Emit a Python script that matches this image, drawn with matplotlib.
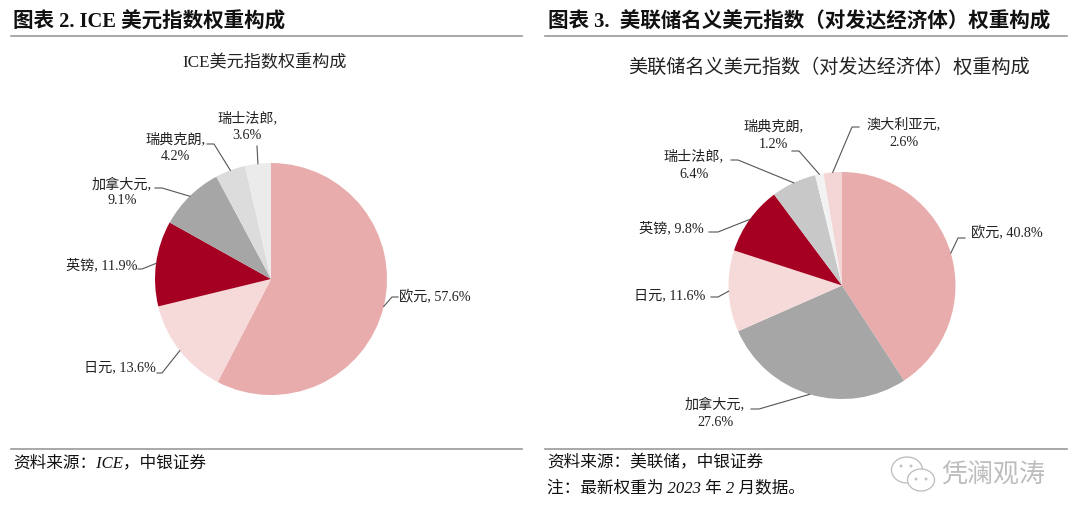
import matplotlib
matplotlib.use('Agg')
import numpy as np
import matplotlib.pyplot as plt
from matplotlib.patches import Ellipse

plt.rcParams['font.family'] = ['Liberation Serif', 'Noto Sans CJK SC', 'DejaVu Sans']

# ICE index weights, clockwise from the top.
ice_values = [57.6, 13.6, 11.9, 9.1, 4.2, 3.6]
ice_labels = ['欧元, 57.6%', '日元, 13.6%', '英镑, 11.9%', '加拿大元,\n9.1%',
              '瑞典克朗,\n4.2%', '瑞士法郎,\n3.6%']
ice_colors = ['#E9ACAC', '#F6DADA', '#A50021', '#A6A6A6', '#DCDCDC', '#EBEBEB']

# Fed nominal dollar index (advanced economies) weights.
fed_values = [40.8, 27.6, 11.6, 9.8, 6.4, 1.2, 2.6]
fed_labels = ['欧元, 40.8%', '加拿大元,\n27.6%', '日元, 11.6%', '英镑, 9.8%',
              '瑞士法郎,\n6.4%', '瑞典克朗,\n1.2%', '澳大利亚元,\n2.6%']
fed_colors = ['#E9ACAC', '#A6A6A6', '#F6DADA', '#A50021', '#C8C8C8', '#F2F2F2', '#F4D5D5']

W, H = 1080, 523


def Y(y):
    # Reference pixel rows run downwards, the axes upwards.
    return H - y


fig = plt.figure(figsize=(W / 100, H / 100), dpi=100)
ax = fig.add_axes([0, 0, 1, 1])


def put(x, y, text, **kw):
    kw.setdefault('va', 'center')
    kw.setdefault('color', '#1A1A1A')
    ax.text(x, Y(y), text, **kw)


def draw_pie(values, labels, colors, cx, cy, r, spacing, places):
    wedges, _ = ax.pie(values, colors=colors, startangle=90, counterclock=False,
                       center=(cx, Y(cy)), radius=r, frame=True)
    for wedge, text, place in zip(wedges, labels, places):
        tx, ty, elbow = place
        put(tx, ty, text, ha='center', fontsize=10.2, color='#222222', linespacing=spacing)
        # Leader line: from the rim of the slice to the elbow, then along the text.
        mid = np.deg2rad((wedge.theta1 + wedge.theta2) / 2)
        xs = [cx + r * np.cos(mid)] + [p[0] for p in elbow]
        ys = [Y(cy) + r * np.sin(mid)] + [Y(p[1]) for p in elbow]
        ax.plot(xs, ys, color='#555555', lw=0.8)


draw_pie(ice_values, ice_labels, ice_colors, 271, 279, 116, 1.35, [
    (435, 297, [(392, 297), (398, 297)]),
    (120, 368, [(162, 373), (157, 373)]),
    (102, 265, [(142, 269), (138, 269)]),
    (122, 192, [(162, 188), (155, 188)]),
    (175, 148, [(214, 144), (207, 144)]),
    (247, 127, [(257, 146)]),
])

draw_pie(fed_values, fed_labels, fed_colors, 842, 285.5, 113.5, 1.5, [
    (1007, 233, [(958, 238), (965, 238)]),
    (715, 413, [(759, 409), (751, 409)]),
    (670, 296, [(718, 297), (711, 297)]),
    (671, 228, [(718, 232), (709, 232)]),
    (694, 165, [(738, 160), (731, 160)]),
    (773, 135, [(799, 151), (792, 151)]),
    (904, 133, [(852, 127), (859, 127)]),
])

ax.set_xlim(0, W)
ax.set_ylim(0, H)
ax.axis('off')

# Panel rules.
for x0, x1 in [(11, 522), (545, 1067)]:
    ax.plot([x0, x1], [Y(36), Y(36)], color='#999999', lw=1.2)
    ax.plot([x0, x1], [Y(449), Y(449)], color='#999999', lw=1.2)

# Panel headers, chart titles and sources.
put(13, 22, '图表 2. ICE 美元指数权重构成', fontsize=14.8, fontweight='bold', color='#111111')
put(548, 22, '图表 3.  美联储名义美元指数（对发达经济体）权重构成', fontsize=14.8,
    fontweight='bold', color='#111111')
put(265, 63, 'ICE美元指数权重构成', fontsize=12.3, ha='center', color='#222222')
put(829, 68, '美联储名义美元指数（对发达经济体）权重构成', fontsize=13.8, ha='center',
    color='#222222')
put(13, 463, '资料来源：ICE，中银证券', fontsize=12, style='italic', color='#111111')
put(547, 463, '资料来源：美联储，中银证券', fontsize=12, style='italic', color='#111111')
put(547, 488, '注：最新权重为 2023 年 2 月数据。', fontsize=12, style='italic', color='#111111')

# Watermark.
for cx, cy, w, h in [(907, 470, 31, 26), (921, 480, 27, 22)]:
    ax.add_patch(Ellipse((cx, Y(cy)), w, h, facecolor='white', edgecolor='#BBBBBB', lw=0.9))
for cx, cy in [(901, 466), (911, 466), (916, 479), (926, 479)]:
    ax.add_patch(Ellipse((cx, Y(cy)), 3, 3, facecolor='#C4C4C4', edgecolor='none'))
put(993, 475, '凭澜观涛', fontsize=18.7, ha='center', color='#BDBDBD', fontweight='light')

fig.savefig('out.png', dpi=100)
